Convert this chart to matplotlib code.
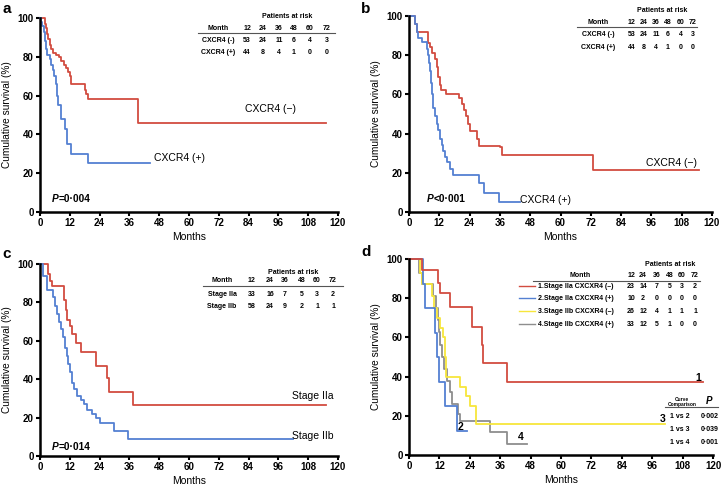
import matplotlib
matplotlib.use('Agg')
import matplotlib.pyplot as plt
from matplotlib.lines import Line2D

plt.rcParams['font.family'] = ['Liberation Sans', 'DejaVu Sans']

# Colors
RED = '#D24C40'
BLUE = '#5480D2'
YELLOW = '#F7E63C'
GREY = '#8E8E8E'

W, H = 721, 486

# ---- panel a : CXCR4 (overall survival)
a_neg_t = [0, 1.9, 2.3, 2.8, 3.3, 3.9, 4.5, 5.2, 6.5, 7.5, 8.6, 9.5, 10.6, 11.3, 11.9, 12.6, 18.0, 18.7, 19.3, 39.5, 115]
a_neg_s = [100, 97, 95, 92, 89, 86, 84, 82, 81, 80, 78, 76, 74, 72, 70, 66, 63, 61, 58, 46, 46]
a_pos_t = [0, 0.5, 1.0, 1.5, 2.0, 2.5, 3.0, 3.9, 4.5, 5.2, 5.8, 6.6, 7.0, 7.4, 8.4, 10.0, 10.8, 12.5, 19.3, 44.2]
a_pos_s = [100, 98, 96, 93, 88, 84, 81, 79, 76, 73, 70, 66, 60, 55, 48, 43, 35, 30, 25.5, 25.5]

# ---- panel b
b_neg_t = [0, 2.4, 3.0, 7.5, 8.3, 9.3, 10.2, 11.0, 11.5, 12.2, 12.8, 14.6, 19.8, 20.8, 21.7, 22.5, 23.4, 24.1, 27.1, 27.8, 36.2, 36.8, 73, 114.7]
b_neg_s = [100, 96, 92, 86, 84, 81, 78, 74, 69, 65, 62, 60, 58, 55, 52, 49, 45, 41.5, 37.5, 33.5, 33, 29, 21.5, 21.5]
b_pos_t = [0, 2.4, 3.0, 3.7, 5.0, 7.0, 7.5, 8.0, 8.4, 8.8, 9.2, 9.6, 10.2, 10.9, 11.6, 12.3, 13.0, 13.6, 14.3, 14.9, 16.2, 17.5, 27.6, 29.7, 35.5, 44]
b_pos_s = [100, 96, 92, 89, 86.5, 83, 80, 76, 72, 66, 60, 53, 49, 45, 42, 37, 34, 31, 28, 25.5, 22, 19, 15, 9.5, 5.2, 5.2]

# ---- panel c : stage
c_a_t = [0, 3.3, 4.0, 4.7, 9.5, 10.3, 11.0, 12.0, 12.7, 14.6, 16.6, 22.7, 26.8, 27.7, 37.4, 115.3]
c_a_s = [100, 95, 91, 88.4, 81, 76, 71, 67.5, 63.5, 59, 54, 47, 40.5, 33.3, 26.8, 26.8]
c_b_t = [0, 1.3, 2.7, 5.4, 6.2, 7.0, 7.8, 8.5, 9.1, 10.0, 10.7, 11.4, 12.0, 12.7, 13.7, 14.7, 16.5, 17.7, 18.8, 20.8, 22.5, 24.1, 29.9, 35.5, 101.9]
c_b_s = [100, 93.6, 86.7, 82.7, 78, 74, 70, 66, 62, 56, 52, 48, 44, 38, 34.7, 31, 29, 27, 24, 22, 20, 17.3, 13, 8.6, 8.6]

# ---- panel d : stage x CXCR4
d1_t = [0, 5.0, 11.6, 12.2, 16.2, 24.7, 28.7, 29.3, 38.6, 116]
d1_s = [100, 94.4, 87.6, 82.5, 75.7, 65.5, 56.1, 46.8, 37.1, 37.1]
d2_t = [0, 5.5, 6.2, 10.4, 11.0, 11.8, 14.3, 19.0, 23.0]
d2_s = [100, 87.5, 75, 62.5, 50, 37.5, 25, 12.5, 12.5]
d3_t = [0, 4.3, 5.0, 9.0, 10.0, 11.2, 12.3, 13.6, 14.2, 14.8, 20.2, 22.6, 24.0, 26.6, 101]
d3_s = [100, 93, 87.5, 81, 75, 70, 65, 60, 50, 40, 34.5, 30, 25, 15.8, 15.8]
d4_t = [0, 4.0, 5.0, 9.5, 10.5, 11.3, 11.8, 12.3, 13.0, 14.0, 15.0, 16.0, 17.0, 19.3, 20.0, 32.0, 38.6, 46.5]
d4_s = [100, 93, 87, 81, 75, 69, 63, 56, 50, 44, 38, 32, 26, 21, 17.5, 11.5, 5.8, 5.8]

# patients at risk
risk_months = [12, 24, 36, 48, 60, 72]
risk_neg = [53, 24, 11, 6, 4, 3]
risk_pos = [44, 8, 4, 1, 0, 0]
risk_iia = [33, 16, 7, 5, 3, 2]
risk_iib = [58, 24, 9, 2, 1, 1]
risk_d = [[23, 14, 7, 5, 3, 2], [10, 2, 0, 0, 0, 0], [26, 12, 4, 1, 1, 1], [33, 12, 5, 1, 0, 0]]
labels_d = ['1.Stage IIa CXCXR4 (–)', '2.Stage IIa CXCXR4 (+)',
            '3.Stage IIb CXCXR4 (–)', '4.Stage IIb CXCXR4 (+)']
comps = ['1 vs 2', '1 vs 3', '1 vs 4']
comp_p = ['0·002', '0·039', '0·001']


def ft(x, y, s, **kw):
    kw.setdefault('ha', 'center')
    kw.setdefault('va', 'center')
    return fig.text(x / W, 1 - y / H, s, **kw)


def fline(x0, x1, y, color='#555555', lw=0.8):
    fig.add_artist(Line2D([x0 / W, x1 / W], [1 - y / H, 1 - y / H],
                          transform=fig.transFigure, color=color, lw=lw))


def make_axes(l, r, t, b):
    ax = fig.add_axes([l / W, 1 - b / H, (r - l) / W, (b - t) / H])
    ax.set_xlim(0, 120)
    ax.set_ylim(0, 100)
    ax.set_xticks(range(0, 121, 12))
    ax.set_yticks(range(0, 101, 20))
    for s in ['top', 'right']:
        ax.spines[s].set_visible(False)
    for s in ['left', 'bottom']:
        ax.spines[s].set_linewidth(1.8)
    ax.tick_params(direction='out', length=3, width=1.5, labelsize=7, pad=1.5)
    for lab in ax.get_xticklabels() + ax.get_yticklabels():
        lab.set_fontweight('bold')
    ax.set_xlabel('Months', fontsize=7.5, labelpad=3)
    ax.set_ylabel('Cumulative survival (%)', fontsize=7.3, labelpad=4)
    return ax


def curve(ax, t, s, color):
    ax.step(t, s, where='post', color=color, lw=1.3, clip_on=False)


def pval(ax, x, y, rest):
    t = ax.text(x, y, 'P', fontsize=7.3, fontweight='bold', style='italic',
                transform=ax.transAxes, va='baseline')
    ax.annotate(rest, xy=(1, 0), xycoords=t, va='bottom', fontsize=7.3,
                fontweight='bold')


def risk_table(title_xy, label_x, col_x, head_y, line, rows_y, names, rows):
    ft(title_xy[0], title_xy[1], 'Patients at risk', fontsize=5, fontweight='bold')
    ft(label_x, head_y, 'Month', fontsize=5, fontweight='bold')
    for x, m in zip(col_x, risk_months):
        ft(x, head_y, str(m), fontsize=5, fontweight='bold')
    fline(line[0], line[1], line[2])
    for y, name, vals in zip(rows_y, names, rows):
        ft(label_x, y, name, fontsize=5, fontweight='bold')
        for x, v in zip(col_x, vals):
            ft(x, y, str(v), fontsize=5, fontweight='bold')


fig = plt.figure(figsize=(7.21, 4.86), dpi=100)

# a
ax = make_axes(40, 338, 18, 212)
curve(ax, a_neg_t, a_neg_s, RED)
curve(ax, a_pos_t, a_pos_s, BLUE)
ax.text(93, 53, 'CXCR4 (−)', fontsize=7.5, ha='center', va='center')
ax.text(56, 28, 'CXCR4 (+)', fontsize=7.5, ha='center', va='center')
pval(ax, 0.04, 0.05, '=0·004')
risk_table((287, 16), 218, [247, 263, 279, 294, 310, 327], 28, (198, 335, 33),
           [41, 53], ['CXCR4 (-)', 'CXCR4 (+)'], [risk_neg, risk_pos])
ft(7, 9, 'a', fontsize=11, fontweight='bold')

# b
ax = make_axes(409, 712, 16, 212)
curve(ax, b_neg_t, b_neg_s, RED)
curve(ax, b_pos_t, b_pos_s, BLUE)
ax.text(104, 25, 'CXCR4 (−)', fontsize=7.5, ha='center', va='center')
ax.text(54, 6, 'CXCR4 (+)', fontsize=7.5, ha='center', va='center')
pval(ax, 0.06, 0.05, '<0·001')
risk_table((662, 11), 598, [632, 644, 656, 668, 681, 693], 23, (577, 697, 27),
           [35, 47], ['CXCR4 (-)', 'CXCR4 (+)'], [risk_neg, risk_pos])
ft(366, 9, 'b', fontsize=11, fontweight='bold')

# c
ax = make_axes(40, 338, 264, 456)
curve(ax, c_a_t, c_a_s, RED)
curve(ax, c_b_t, c_b_s, BLUE)
ax.text(110, 31, 'Stage IIa', fontsize=7.5, ha='center', va='center')
ax.text(110, 10.5, 'Stage IIb', fontsize=7.5, ha='center', va='center')
pval(ax, 0.04, 0.03, '=0·014')
risk_table((293, 272), 222, [252, 270, 285, 302, 317, 333], 281, (203, 343, 286),
           [294, 306], ['Stage IIa', 'Stage IIb'], [risk_iia, risk_iib])
ft(7, 254, 'c', fontsize=11, fontweight='bold')

# d
ax = make_axes(409, 713, 259, 455)
curve(ax, d4_t, d4_s, GREY)
curve(ax, d3_t, d3_s, YELLOW)
curve(ax, d2_t, d2_s, BLUE)
curve(ax, d1_t, d1_s, RED)
for lab, x, y in [('1', 114, 39.5), ('2', 20.5, 14.5), ('3', 100, 18.5), ('4', 44, 9)]:
    ax.text(x, y, lab, fontsize=7.5, fontweight='bold', ha='center', va='center')

col_d = [631, 643, 657, 670, 682, 695]
ft(670, 264, 'Patients at risk', fontsize=5, fontweight='bold')
ft(580, 275, 'Month', fontsize=5, fontweight='bold')
for x, m in zip(col_d, risk_months):
    ft(x, 275, str(m), fontsize=5, fontweight='bold')
fline(533, 700, 281)
for y, name, vals, c in zip([286, 298, 311, 324], labels_d, risk_d, [RED, BLUE, YELLOW, GREY]):
    fline(519, 535, y, color=c, lw=1.0)
    ft(538, y, name, fontsize=5, fontweight='bold', ha='left')
    for x, v in zip(col_d, vals):
        ft(x, y, str(v), fontsize=5, fontweight='bold')

ft(682, 399, 'Curve', fontsize=3.5, fontweight='bold')
ft(682, 404, 'Comparison', fontsize=3.5, fontweight='bold')
ft(709, 401, 'P', fontsize=7, fontweight='bold', style='italic')
fline(665, 718, 407)
for y, cmp_, p in zip([416, 429, 442], comps, comp_p):
    ft(680, y, cmp_, fontsize=5, fontweight='bold')
    ft(710, y, p, fontsize=5, fontweight='bold')
ft(366, 252, 'd', fontsize=11, fontweight='bold')

fig.savefig('out.png', dpi=100)
